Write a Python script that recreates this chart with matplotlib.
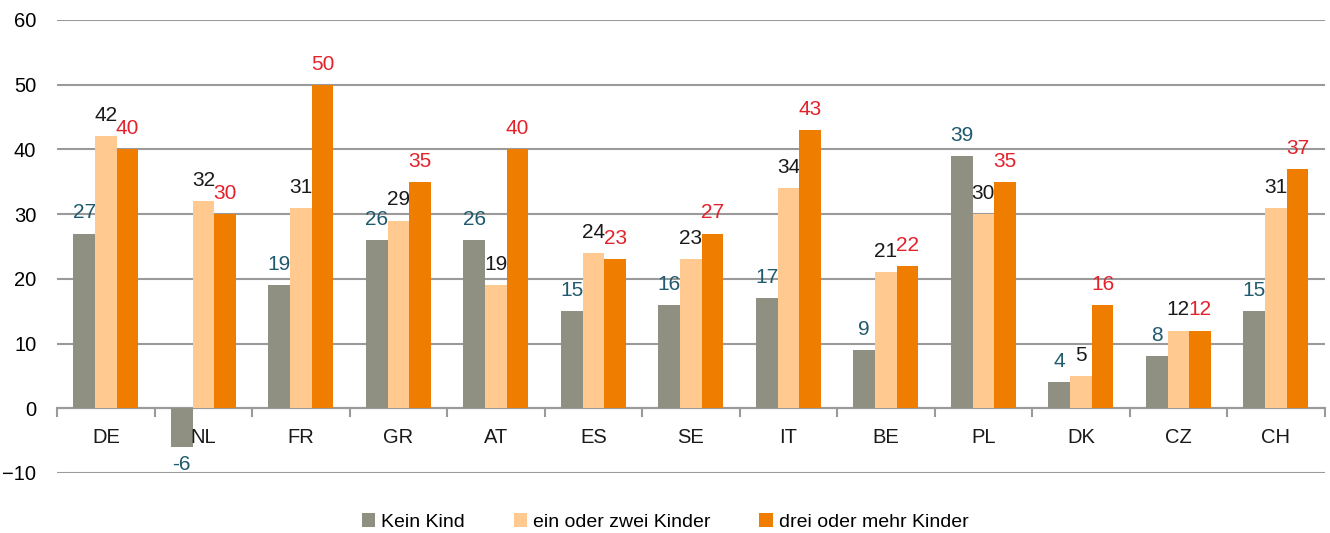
import numpy as np
import matplotlib
matplotlib.use("Agg")
import matplotlib.pyplot as plt
from matplotlib import font_manager

names = {f.name for f in font_manager.fontManager.ttflist}
fam = "Liberation Sans Narrow" if "Liberation Sans Narrow" in names else "Liberation Sans"
plt.rcParams["font.family"] = [fam, "DejaVu Sans"]

countries = ["DE", "NL", "FR", "GR", "AT", "ES", "SE", "IT", "BE", "PL", "DK", "CZ", "CH"]
kein_kind = [27, -6, 19, 26, 26, 15, 16, 17, 9, 39, 4, 8, 15]
ein_zwei = [42, 32, 31, 29, 19, 24, 23, 34, 21, 30, 5, 12, 31]
drei_mehr = [40, 30, 50, 35, 40, 23, 27, 43, 22, 35, 16, 12, 37]
series_names = ["Kein Kind", "ein oder zwei Kinder", "drei oder mehr Kinder"]

bar_colors = ["#8f8f82", "#ffc98f", "#ef7d00"]
label_colors = ["#1f5a6e", "#1a1a1a", "#e3222c"]

fig = plt.figure(figsize=(13.3, 5.33), dpi=100)
ax = fig.add_axes([0.043, 0.1126, 0.953, 0.85])

x = np.arange(len(countries))
w = 0.222
for i, vals in enumerate([kein_kind, ein_zwei, drei_mehr]):
    pos = x + (i - 1) * w
    ax.bar(pos, vals, width=w, color=bar_colors[i], label=series_names[i], zorder=3)
    for p, v in zip(pos, vals):
        if v >= 0:
            ax.annotate(str(v), (p, v), xytext=(0, 8), textcoords="offset points",
                        ha="center", va="bottom", fontsize=15, color=label_colors[i])
        else:
            ax.annotate(str(v), (p, v), xytext=(0, -6), textcoords="offset points",
                        ha="center", va="top", fontsize=15, color=label_colors[i])

ax.set_xlim(-0.5, len(countries) - 0.5)
ax.set_ylim(-10, 60)
ax.set_yticks(range(-10, 61, 10))
ax.tick_params(axis="y", length=0, labelsize=14.5, pad=15)
ax.grid(axis="y", color="#9a9a9a", linewidth=1.5, zorder=0)

# x axis at zero with boundary ticks
ax.axhline(0, color="#9a9a9a", linewidth=1.5, zorder=2)
ax.set_xticks(x)
ax.set_xticklabels([])
ax.tick_params(axis="x", length=0)
for b in np.arange(-0.5, len(countries), 1.0):
    ax.plot([b, b], [0, -1.2], color="#9a9a9a", linewidth=1.5, zorder=2, clip_on=False)
for xi, c in zip(x, countries):
    ax.text(xi, -4.5, c, ha="center", va="center", fontsize=14.5, color="#1a1a1a")

for s in ax.spines.values():
    s.set_visible(False)

leg = fig.legend(loc="center", bbox_to_anchor=(0.5, 0.021), ncol=3, frameon=False,
                 fontsize=14, handlelength=0.7, handleheight=0.7, handletextpad=0.3,
                 columnspacing=2.5)

fig.savefig("out.png", dpi=100)
